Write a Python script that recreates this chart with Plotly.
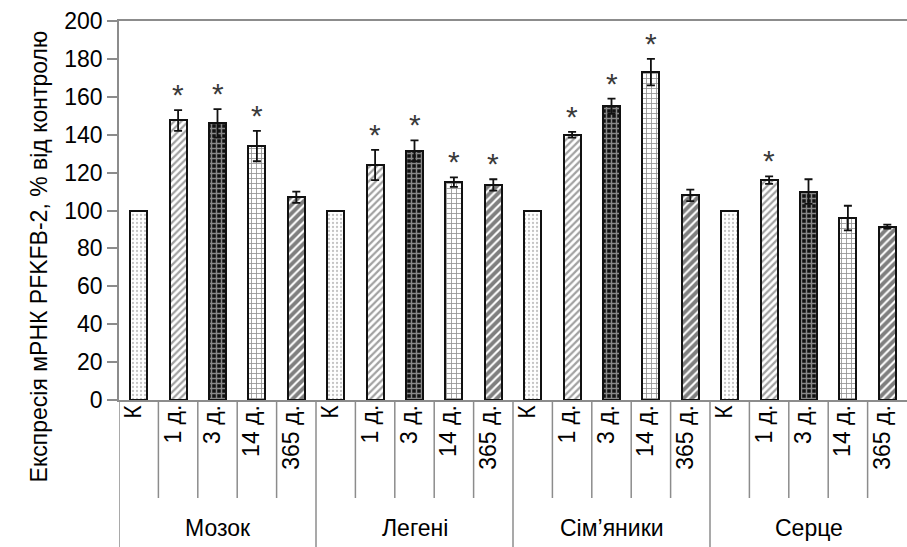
import plotly.graph_objects as go

groups = ["Мозок", "Легені", "Сім’яники", "Серце"]
times = ["К", "1 д.", "3 д.", "14 д.", "365 д."]

# values per time point across groups (Мозок, Легені, Сім'яники, Серце)
vals_K = [100, 100, 100, 100]
vals_1 = [147.5, 124, 140, 116]
vals_3 = [146, 131.5, 155, 110]
vals_14 = [134, 115, 173, 96]
vals_365 = [107, 113.5, 108, 91.5]
err_K = [0, 0, 0, 0]
err_1 = [5.5, 8, 1.5, 2]
err_3 = [7.5, 5.5, 4, 6.5]
err_14 = [8, 2.5, 7, 6.5]
err_365 = [3, 3, 3, 1]
sig_K = [False, False, False, False]
sig_1 = [True, True, True, True]
sig_3 = [True, True, True, False]
sig_14 = [True, True, True, False]
sig_365 = [False, True, False, False]

series_vals = [vals_K, vals_1, vals_3, vals_14, vals_365]
series_err = [err_K, err_1, err_3, err_14, err_365]
series_sig = [sig_K, sig_1, sig_3, sig_14, sig_365]

patterns = [
    dict(shape=".", fgcolor="#8a8a8a", bgcolor="white", size=4, solidity=0.25),
    dict(shape="/", fgcolor="#444444", bgcolor="white", size=5, solidity=0.45),
    dict(shape="+", fgcolor="white", bgcolor="#111111", size=5, solidity=0.5),
    dict(shape="+", fgcolor="#222222", bgcolor="white", size=5, solidity=0.3),
    dict(shape="/", fgcolor="#000000", bgcolor="white", size=6, solidity=0.65),
]

FS = 23
ng = len(groups)
nt = len(times)
fig = go.Figure()
annotations = []
shapes = []
for ti in range(nt):
    xs = [gi * nt + ti for gi in range(ng)]
    errs = series_err[ti]
    fig.add_trace(go.Bar(
        x=xs, y=series_vals[ti], width=0.43,
        marker=dict(color="white", line=dict(color="#111111", width=2), pattern=patterns[ti]),
        error_y=dict(type="data", array=errs, visible=any(e > 0 for e in errs),
                     color="#111111", thickness=1.8, width=4),
        showlegend=False,
    ))
    for gi in range(ng):
        x = gi * nt + ti
        annotations.append(dict(x=x, y=0, xref="x", yref="y", text=times[ti], textangle=-90,
                                showarrow=False, yanchor="top", xanchor="center", yshift=-3, xshift=-6,
                                font=dict(size=FS, color="black")))
        if series_sig[ti][gi]:
            v = series_vals[ti][gi] + series_err[ti][gi]
            annotations.append(dict(x=x, y=v, xref="x", yref="y", text="*", showarrow=False,
                                    yanchor="bottom", yshift=-3,
                                    font=dict(size=30, color="#3a3a3a")))

for gi in range(ng):
    annotations.append(dict(x=gi * nt + (nt - 1) / 2, y=-0.338, xref="x", yref="paper",
                            text=groups[gi], showarrow=False, yanchor="middle",
                            font=dict(size=FS, color="black")))

n = ng * nt
plot_h = 379.0
for i in range(n):
    xb = i - 0.5
    if i % nt == 0:
        y1 = -147 / plot_h
    else:
        y1 = -98 / plot_h
    shapes.append(dict(type="line", xref="x", yref="paper", x0=xb, x1=xb, y0=0, y1=y1,
                       line=dict(color="#8c8c8c", width=1.5)))

annotations.append(dict(x=-0.101, y=0.38, xref="paper", yref="paper",
                        text="Експресія мРНК PFKFB-2, % від контролю", textangle=-90,
                        showarrow=False, xanchor="center", yanchor="middle",
                        font=dict(size=FS, color="black")))

fig.update_layout(
    width=907, height=547,
    margin=dict(l=119, r=0, t=21, b=147),
    plot_bgcolor="white", paper_bgcolor="white",
    font=dict(family="Liberation Sans, Arial, sans-serif", color="black"),
    annotations=annotations, shapes=shapes,
    bargap=0.0,
)
fig.update_xaxes(range=[-0.5, n - 0.5], showticklabels=False, ticks="", showgrid=False,
                 zeroline=False, showline=True, mirror=True, linecolor="#8c8c8c", linewidth=1.5)
fig.update_yaxes(range=[0, 200], dtick=20, ticks="outside", ticklen=10, tickcolor="#8c8c8c",
                 tickwidth=1.5, showgrid=False, zeroline=False, showline=True,
                 linecolor="#8c8c8c", linewidth=1.5, tickfont=dict(size=FS, color="black"))

fig.write_html("out.html", config={"displayModeBar": False},
               post_script="document.body.style.margin='0';document.body.style.overflow='hidden';")
